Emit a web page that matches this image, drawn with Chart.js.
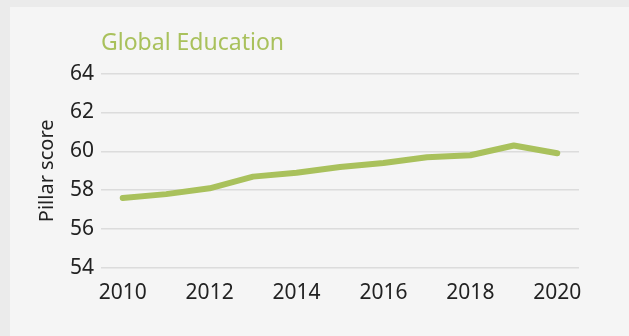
<!DOCTYPE html>
<html>
<head>
<meta charset="utf-8">
<title>Global Education</title>
<script src="https://cdn.jsdelivr.net/npm/chart.js@4.4.1/dist/chart.umd.min.js"></script>
<style>
    html, body {
        margin: 0;
        padding: 0;
        background: #ebebeb;
        width: 629px;
        height: 336px;
        overflow: hidden;
    }
    .panel {
        position: absolute;
        left: 10px;
        top: 7px;
        width: 619px;
        height: 329px;
        background: #f5f5f5;
    }
</style>
</head>
<body>
<div class="panel">
    <canvas id="chart-education" width="619" height="329"></canvas>
</div>
<script>
// グラフのデータ
const years = ['2010', '2011', '2012', '2013', '2014', '2015', '2016', '2017', '2018', '2019', '2020'];
const pillarScores = [57.6, 57.8, 58.1, 58.7, 58.9, 59.2, 59.4, 59.7, 59.8, 60.3, 59.9];
const xTickLabels = ['2010', '2012', '2014', '2016', '2018', '2020'];
const yTickValues = [54, 56, 58, 60, 62, 64];

const GREEN = '#a9c15c';
const TEXT = '#222222';
const FONT = "'Noto Sans', sans-serif";

const ctx = document.getElementById('chart-education').getContext('2d');

new Chart(ctx, {
    type: 'line',
    data: {
        labels: years,
        datasets: [{
            label: 'Global Education',
            data: pillarScores,
            borderColor: GREEN,
            borderWidth: 6,
            borderCapStyle: 'round',
            borderJoinStyle: 'round',
            pointRadius: 0,
            tension: 0,
            fill: false
        }]
    },
    options: {
        responsive: false,
        animation: false,
        layout: {
            padding: { top: 0, right: 50, bottom: 0, left: 0 }
        },
        scales: {
            x: {
                type: 'category',
                offset: true,
                grid: { display: false },
                border: { display: false },
                ticks: {
                    autoSkip: false,
                    maxRotation: 0,
                    padding: 4,
                    color: TEXT,
                    font: { family: FONT, size: 21 },
                    callback: function (value, index) {
                        const label = this.getLabelForValue(value);
                        return xTickLabels.includes(label) ? label : '';
                    }
                },
                afterFit: function (scale) {
                    scale.height = 68;
                }
            },
            y: {
                min: yTickValues[0],
                max: yTickValues[yTickValues.length - 1],
                afterBuildTicks: function (scale) {
                    scale.ticks = yTickValues.map(v => ({ value: v }));
                },
                grid: {
                    color: '#dcdcdc',
                    lineWidth: 1.5,
                    drawTicks: false
                },
                border: { display: false },
                ticks: {
                    padding: 7,
                    color: TEXT,
                    font: { family: FONT, size: 21 }
                },
                title: {
                    display: true,
                    text: 'Pillar score',
                    color: TEXT,
                    font: { family: FONT, size: 20 },
                    padding: { top: 25, bottom: 0 }
                },
                afterFit: function (scale) {
                    scale.width = 91;
                }
            }
        },
        plugins: {
            legend: { display: false },
            tooltip: { enabled: false },
            title: {
                display: true,
                text: 'Global Education',
                align: 'start',
                fullSize: false,
                color: GREEN,
                font: { family: FONT, size: 23, weight: 'normal' },
                padding: { top: 23, bottom: 16 }
            }
        }
    }
});
</script>
</body>
</html>
